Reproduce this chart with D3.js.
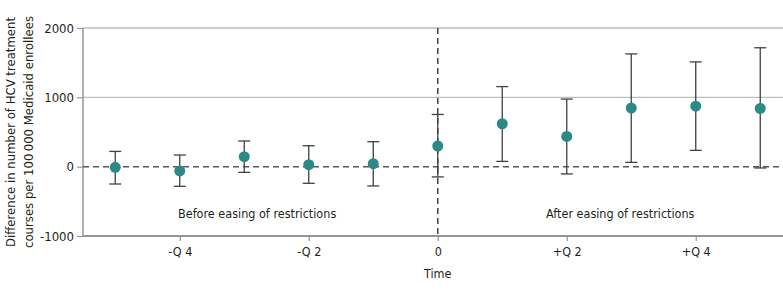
<!DOCTYPE html>
<html lang="en">
<head>
    <meta charset="UTF-8">
    <title>HCV treatment courses</title>
    <script src="https://cdn.jsdelivr.net/npm/d3@7"></script>
    <style>
        body { margin: 0; background: #fff; }
        svg text { font-family: "DejaVu Sans Condensed", "Liberation Sans Narrow", sans-serif; fill: #231f20; }
    </style>
</head>
<body>
    <script>
        //data
        var quarters = [-5, -4, -3, -2, -1, 0, 1, 2, 3, 4, 5];
        var estimates = [-10, -62, 144, 29, 43, 298, 619, 436, 845, 873, 839];
        var lowerCI = [-250, -283, -82, -240, -278, -148, 76, -105, 62, 235, -19];
        var upperCI = [220, 168, 370, 302, 360, 753, 1155, 975, 1626, 1511, 1715];
        var xTicks = [-4, -2, 0, 2, 4];
        var xTickLabels = ['-Q 4', '-Q 2', '0', '+Q 2', '+Q 4'];
        var yTicks = [-1000, 0, 1000, 2000];

        var w = 783;
        var h = 297;
        var mLeft = 83, mRight = 783, mTop = 28, mBottom = 236;

        var xScale = d3.scaleLinear().domain([-5.5, 5.5]).range([mLeft, mLeft + 11 * 64.5]);
        var yScale = d3.scaleLinear().domain([-1000, 2000]).range([mBottom, mTop]);

        var svg = d3.select('body').append('svg')
            .attr('width', w)
            .attr('height', h);

        //gridlines at positive ticks
        svg.selectAll('line.grid')
            .data(yTicks.filter(function(d) { return d > 0; }))
            .enter().append('line')
            .attr('class', 'grid')
            .attr('x1', mLeft).attr('x2', mRight)
            .attr('y1', function(d) { return yScale(d); })
            .attr('y2', function(d) { return yScale(d); })
            .attr('stroke', '#bcbec0').attr('stroke-width', 1.3);

        //y axis
        var yAxis = d3.axisLeft(yScale).tickValues(yTicks).tickSize(6).tickPadding(3)
            .tickFormat(function(d) { return String(d); });
        var gy = svg.append('g')
            .attr('transform', 'translate(' + mLeft + ',0)')
            .call(yAxis);
        gy.select('.domain').attr('d', 'M0,' + mTop + 'V' + mBottom).attr('stroke', '#939598').attr('stroke-width', 1.5);
        gy.selectAll('.tick line').attr('stroke', '#939598').attr('stroke-width', 1.2);
        gy.selectAll('.tick text').attr('font-size', '13px');

        //x axis
        var xAxis = d3.axisBottom(xScale).tickValues(xTicks).tickSize(5).tickPadding(6)
            .tickFormat(function(d, i) { return xTickLabels[i]; });
        var gx = svg.append('g')
            .attr('transform', 'translate(0,' + mBottom + ')')
            .call(xAxis);
        gx.select('.domain').attr('d', 'M' + mLeft + ',0H' + mRight).attr('stroke', '#939598').attr('stroke-width', 2);
        gx.selectAll('.tick line').attr('stroke', '#939598').attr('stroke-width', 1.2);
        gx.selectAll('.tick text').attr('font-size', '12.5px');

        //reference lines
        svg.append('line')
            .attr('x1', mLeft).attr('x2', mRight)
            .attr('y1', yScale(0)).attr('y2', yScale(0))
            .attr('stroke', '#58595b').attr('stroke-width', 1.5)
            .attr('stroke-dasharray', '6,4');
        svg.append('line')
            .attr('x1', xScale(0)).attr('x2', xScale(0))
            .attr('y1', mTop).attr('y2', mBottom)
            .attr('stroke', '#414042').attr('stroke-width', 1.5)
            .attr('stroke-dasharray', '6,4');

        //error bars
        var bars = svg.selectAll('g.bar')
            .data(quarters)
            .enter().append('g')
            .attr('class', 'bar');
        bars.append('line')
            .attr('x1', function(d) { return xScale(d); })
            .attr('x2', function(d) { return xScale(d); })
            .attr('y1', function(d, i) { return yScale(lowerCI[i]); })
            .attr('y2', function(d, i) { return yScale(upperCI[i]); })
            .attr('stroke', '#414042').attr('stroke-width', 1.3);
        bars.append('line')
            .attr('x1', function(d) { return xScale(d) - 6; })
            .attr('x2', function(d) { return xScale(d) + 6; })
            .attr('y1', function(d, i) { return yScale(upperCI[i]); })
            .attr('y2', function(d, i) { return yScale(upperCI[i]); })
            .attr('stroke', '#414042').attr('stroke-width', 1.3);
        bars.append('line')
            .attr('x1', function(d) { return xScale(d) - 6; })
            .attr('x2', function(d) { return xScale(d) + 6; })
            .attr('y1', function(d, i) { return yScale(lowerCI[i]); })
            .attr('y2', function(d, i) { return yScale(lowerCI[i]); })
            .attr('stroke', '#414042').attr('stroke-width', 1.3);

        //points
        svg.selectAll('circle')
            .data(quarters)
            .enter().append('circle')
            .attr('cx', function(d) { return xScale(d); })
            .attr('cy', function(d, i) { return yScale(estimates[i]); })
            .attr('r', 5.5)
            .attr('fill', '#2b8a87');

        //period labels
        svg.append('text')
            .attr('x', xScale(-2.8)).attr('y', 218)
            .attr('text-anchor', 'middle').attr('font-size', '12.5px')
            .text('Before easing of restrictions');
        svg.append('text')
            .attr('x', xScale(2.83)).attr('y', 218)
            .attr('text-anchor', 'middle').attr('font-size', '12.5px')
            .text('After easing of restrictions');

        //axis titles
        svg.append('text')
            .attr('x', xScale(0)).attr('y', 278)
            .attr('text-anchor', 'middle').attr('font-size', '12.5px')
            .text('Time');
        var ytitle = svg.append('text')
            .attr('transform', 'translate(0,' + ((mTop + mBottom) / 2) + ') rotate(-90)')
            .attr('text-anchor', 'middle').attr('font-size', '13px');
        ytitle.append('tspan').attr('x', 0).attr('y', 15)
            .text('Difference in number of HCV treatment');
        ytitle.append('tspan').attr('x', 0).attr('y', 33)
            .text('courses per 100\u2009000 Medicaid enrollees');
    </script>
</body>
</html>
